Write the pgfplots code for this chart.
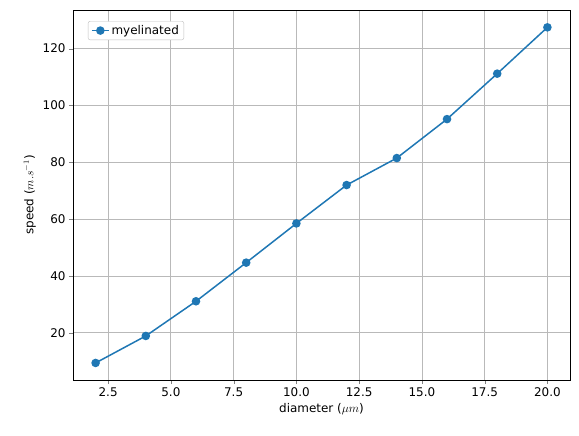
\documentclass[border=0pt]{standalone}
\usepackage{pgfplots}
\pgfplotsset{compat=1.18}
\usepackage{fontspec}
\setmainfont{DejaVu Sans}
\definecolor{mplblue}{HTML}{1F77B4}
\begin{document}
\begin{tikzpicture}
\begin{axis}[
  name=ax, scale only axis, width=497bp, height=370bp,
  xmin=1.1, xmax=20.9, ymin=3.4, ymax=133.6,
  xtick={2.5,5,7.5,10,12.5,15,17.5,20},
  xticklabels={2.5,5.0,7.5,10.0,12.5,15.0,17.5,20.0},
  ytick={20,40,60,80,100,120},
  tick align=outside, tick pos=left, major tick length=4bp,
  grid=major, grid style={gray!55, line width=0.8bp},
  axis line style={line width=0.8bp},
  tick label style={font=\fontsize{12}{14}\selectfont},
  /pgf/number format/assume math mode=true,
  xlabel={diameter ($\mu m$)}, ylabel={speed ($m.s^{-1}$)},
  label style={font=\fontsize{12}{14}\selectfont},
  legend pos=north west, legend style={font=\fontsize{12}{14}\selectfont, draw=gray!50, rounded corners=2pt},
  legend cell align=left,
]
\addplot[mplblue, line width=1.5bp, mark=*, mark size=3.5bp] coordinates {
(2,9.4)(4,18.9)(6,31.1)(8,44.7)(10,58.5)(12,72.0)(14,81.5)(16,95.2)(18,111.2)(20,127.5)};
\addlegendentry{myelinated}
\end{axis}
\pgfresetboundingbox
\path ([shift={(-73bp,-56bp)}]ax.south west) rectangle ([shift={(9bp,10bp)}]ax.north east);
\end{tikzpicture}
\end{document}
